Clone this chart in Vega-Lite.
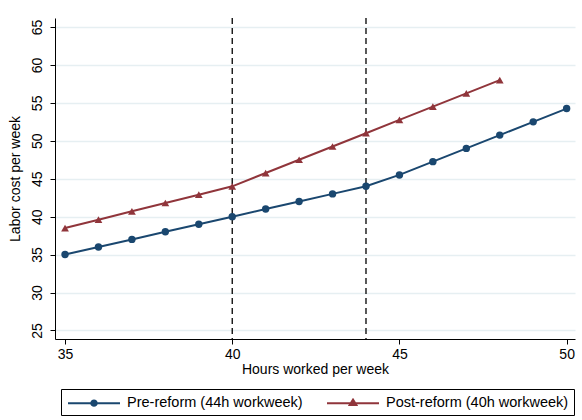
{
  "$schema": "https://vega.github.io/schema/vega-lite/v6.json",
  "width": 520,
  "height": 321,
  "autosize": {"type": "none"},
  "padding": {"left": 55, "top": 18, "right": 7, "bottom": 81},
  "background": "white",
  "config": {
    "font": "Liberation Sans",
    "view": {"stroke": null},
    "axis": {
      "labelFont": "Liberation Sans",
      "titleFont": "Liberation Sans",
      "labelFontSize": 14,
      "titleFontSize": 14,
      "titleFontWeight": "normal",
      "labelColor": "black",
      "titleColor": "black",
      "domainColor": "black",
      "tickColor": "black",
      "domainWidth": 1,
      "tickWidth": 1,
      "tickSize": 5
    }
  },
  "datasets": {
    "cost": [
      {"hours": 35, "cost": 35, "series": "Pre-reform (44h workweek)"},
      {"hours": 36, "cost": 36, "series": "Pre-reform (44h workweek)"},
      {"hours": 37, "cost": 37, "series": "Pre-reform (44h workweek)"},
      {"hours": 38, "cost": 38, "series": "Pre-reform (44h workweek)"},
      {"hours": 39, "cost": 39, "series": "Pre-reform (44h workweek)"},
      {"hours": 40, "cost": 40, "series": "Pre-reform (44h workweek)"},
      {"hours": 41, "cost": 41, "series": "Pre-reform (44h workweek)"},
      {"hours": 42, "cost": 42, "series": "Pre-reform (44h workweek)"},
      {"hours": 43, "cost": 43, "series": "Pre-reform (44h workweek)"},
      {"hours": 44, "cost": 44, "series": "Pre-reform (44h workweek)"},
      {"hours": 45, "cost": 45.5, "series": "Pre-reform (44h workweek)"},
      {"hours": 46, "cost": 47.25, "series": "Pre-reform (44h workweek)"},
      {"hours": 47, "cost": 49, "series": "Pre-reform (44h workweek)"},
      {"hours": 48, "cost": 50.75, "series": "Pre-reform (44h workweek)"},
      {"hours": 49, "cost": 52.5, "series": "Pre-reform (44h workweek)"},
      {"hours": 50, "cost": 54.25, "series": "Pre-reform (44h workweek)"},
      {"hours": 35, "cost": 38.5, "series": "Post-reform (40h workweek)"},
      {"hours": 36, "cost": 39.6, "series": "Post-reform (40h workweek)"},
      {"hours": 37, "cost": 40.7, "series": "Post-reform (40h workweek)"},
      {"hours": 38, "cost": 41.8, "series": "Post-reform (40h workweek)"},
      {"hours": 39, "cost": 42.9, "series": "Post-reform (40h workweek)"},
      {"hours": 40, "cost": 44, "series": "Post-reform (40h workweek)"},
      {"hours": 41, "cost": 45.75, "series": "Post-reform (40h workweek)"},
      {"hours": 42, "cost": 47.5, "series": "Post-reform (40h workweek)"},
      {"hours": 43, "cost": 49.25, "series": "Post-reform (40h workweek)"},
      {"hours": 44, "cost": 51, "series": "Post-reform (40h workweek)"},
      {"hours": 45, "cost": 52.75, "series": "Post-reform (40h workweek)"},
      {"hours": 46, "cost": 54.5, "series": "Post-reform (40h workweek)"},
      {"hours": 47, "cost": 56.25, "series": "Post-reform (40h workweek)"},
      {"hours": 48, "cost": 58, "series": "Post-reform (40h workweek)"}
    ],
    "thresholds": [{"hours": 40}, {"hours": 44}]
  },
  "layer": [
    {
      "data": {"name": "thresholds"},
      "mark": {"type": "rule", "color": "black", "strokeWidth": 1.3, "strokeDash": [6, 4]},
      "encoding": {
        "x": {"field": "hours", "type": "quantitative", "scale": {"domain": [34.7, 50.25], "nice": false, "zero": false}}
      }
    },
    {
      "data": {"name": "cost"},
      "mark": {"type": "line", "strokeWidth": 2},
      "encoding": {
        "x": {
          "field": "hours", "type": "quantitative",
          "scale": {"domain": [34.7, 50.25], "nice": false, "zero": false},
          "axis": {"values": [35, 40, 45, 50], "grid": false, "title": "Hours worked per week", "titlePadding": 1, "labelPadding": 3}
        },
        "y": {
          "field": "cost", "type": "quantitative",
          "scale": {"domain": [23.87, 66.19], "nice": false, "zero": false},
          "axis": {
            "values": [25, 30, 35, 40, 45, 50, 55, 60, 65],
            "grid": true, "gridColor": "#e6eff2", "gridWidth": 1.5,
            "labelAngle": 270, "labelAlign": "center", "labelBaseline": "bottom", "labelPadding": 6,
            "title": "Labor cost per week", "titlePadding": 8
          }
        },
        "color": {
          "field": "series", "type": "nominal",
          "scale": {
            "domain": ["Pre-reform (44h workweek)", "Post-reform (40h workweek)"],
            "range": ["#1a476f", "#90353b"]
          },
          "legend": {
            "title": null,
            "orient": "none",
            "legendX": 6,
            "legendY": 371,
            "direction": "horizontal",
            "columns": 2,
            "labelFont": "Liberation Sans",
            "labelFontSize": 14.5,
            "labelColor": "black",
            "labelLimit": 400,
            "labelOffset": 24,
            "symbolOffset": 19,
            "columnPadding": 20,
            "symbolSize": 256,
            "symbolStrokeWidth": 2,
            "padding": 5,
            "strokeColor": "black",
            "fillColor": "white",
            "cornerRadius": 0,
            "encode": {
              "symbols": {
                "update": {
                  "shape": {"signal": "datum.index === 0 ? 'M-3.25,0L3.25,0M-0.34,0A0.34,0.34,0,1,1,0.34,0A0.34,0.34,0,1,1,-0.34,0Z' : 'M-3.25,0L3.25,0M0,-0.45L0.42,0.22L-0.42,0.22Z'"},
                  "fill": {"signal": "scale('color', datum.value)"},
                  "stroke": {"signal": "scale('color', datum.value)"},
                  "fillOpacity": {"value": 1},
                  "opacity": {"value": 1}
                }
              }
            }
          }
        }
      }
    },
    {
      "data": {"name": "cost"},
      "transform": [{"filter": "datum.series === 'Pre-reform (44h workweek)'"}],
      "mark": {"type": "point", "shape": "circle", "filled": true, "opacity": 1, "size": 55, "color": "#1a476f"},
      "encoding": {
        "x": {"field": "hours", "type": "quantitative"},
        "y": {"field": "cost", "type": "quantitative"}
      }
    },
    {
      "data": {"name": "cost"},
      "transform": [{"filter": "datum.series === 'Post-reform (40h workweek)'"}],
      "mark": {"type": "point", "shape": "triangle-up", "filled": true, "opacity": 1, "size": 60, "color": "#90353b"},
      "encoding": {
        "x": {"field": "hours", "type": "quantitative"},
        "y": {"field": "cost", "type": "quantitative"}
      }
    }
  ]
}
